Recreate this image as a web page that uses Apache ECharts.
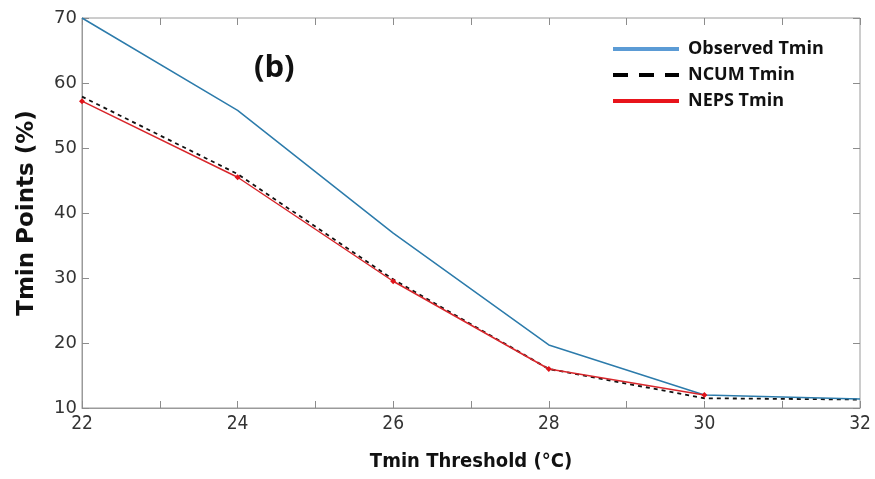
<!DOCTYPE html>
<html><head><meta charset="utf-8">
<script src="https://cdn.jsdelivr.net/npm/echarts@6/dist/echarts.min.js"></script>
<style>html,body{margin:0;padding:0;background:#fff}#c{width:875px;height:479px}</style>
</head><body><div id="c"></div>
<script>
const thresholds = [22, 24, 26, 28, 30, 32];
const observedTmin = [70, 55.8, 36.9, 19.7, 12.0, 11.4];
const ncumTmin = [57.9, 46.0, 29.8, 16.0, 11.5, 11.3];
const nepsTmin = [57.2, 45.5, 29.5, 16.0, 12.0, null];
const yTicks = [10, 20, 30, 40, 50, 60, 70];

const pair = (arr) => thresholds.map((t, i) => [t, arr[i]]).filter(p => p[1] !== null);

const chart = echarts.init(document.getElementById('c'));
const tickStyle = { color: '#8c8c8c', width: 1 };
const hideSym = { opacity: 0 };
chart.setOption({
  animation: false,
  grid: { left: 82, right: 15, top: 18, bottom: 71, show: true, borderColor: '#9a9a9a', borderWidth: 1 },
  title: { text: '(b)', left: 249, top: 48, textStyle: { fontFamily: 'Open Sans', fontWeight: 'bold', fontSize: 31, color: '#111' } },
  legend: {
    orient: 'vertical', left: 606, top: 32, itemWidth: 66, itemHeight: 14, itemGap: 2,
    textStyle: { fontFamily: 'Open Sans', fontWeight: 'bold', fontSize: 18, color: '#111', padding: [0, 0, 0, 4], lineHeight: 24 },
    data: [
      { name: 'Observed Tmin', lineStyle: { color: '#5b9bd5', width: 4 }, itemStyle: hideSym },
      { name: 'NCUM Tmin', lineStyle: { color: '#000', width: 4, type: [15, 11] }, itemStyle: hideSym },
      { name: 'NEPS Tmin', lineStyle: { color: '#e8141b', width: 4 }, itemStyle: hideSym }
    ]
  },
  xAxis: [{
    type: 'value', min: 22, max: 32, interval: 2,
    axisLine: { lineStyle: { color: '#9a9a9a' } },
    axisTick: { inside: true, length: 7, lineStyle: tickStyle },
    minorTick: { show: true, splitNumber: 2, length: 7, lineStyle: tickStyle },
    splitLine: { show: false },
    axisLabel: { color: '#333', fontSize: 19, fontFamily: 'DejaVu Sans Condensed', margin: 7 },
    name: 'Tmin Threshold (°C)', nameLocation: 'middle', nameGap: 44,
    nameTextStyle: { fontFamily: 'DejaVu Sans Condensed', fontWeight: 'bold', fontSize: 20, color: '#111' }
  }, {
    type: 'value', position: 'top', min: 22, max: 32, interval: 2,
    axisLine: { show: false }, axisLabel: { show: false }, splitLine: { show: false },
    axisTick: { inside: true, length: 7, lineStyle: tickStyle },
    minorTick: { show: true, splitNumber: 2, length: 7, lineStyle: tickStyle }
  }],
  yAxis: [{
    type: 'value', min: 10, max: 70, interval: 10,
    axisLine: { show: true, lineStyle: { color: '#9a9a9a' } },
    axisTick: { show: true, inside: true, length: 7, lineStyle: tickStyle },
    splitLine: { show: false },
    axisLabel: { color: '#333', fontSize: 18, fontFamily: 'DejaVu Sans', margin: 5, formatter: v => yTicks.includes(v) ? String(v) : '' },
    name: 'Tmin Points (%)', nameLocation: 'middle', nameGap: 43,
    nameTextStyle: { fontFamily: 'DejaVu Sans', fontWeight: 'bold', fontSize: 23, color: '#111' }
  }, {
    type: 'value', position: 'right', min: 10, max: 70, interval: 10,
    axisLine: { show: false }, axisLabel: { show: false }, splitLine: { show: false },
    axisTick: { show: true, inside: true, length: 7, lineStyle: tickStyle }
  }],
  series: [
    { name: 'Observed Tmin', type: 'line', data: pair(observedTmin), symbol: 'none', z: 3,
      lineStyle: { color: '#2c7bab', width: 1.5 }, itemStyle: { color: '#2c7bab' } },
    { name: 'NCUM Tmin', type: 'line', data: pair(ncumTmin), symbol: 'none', z: 2,
      lineStyle: { color: '#111', width: 1.8, type: [4, 4] }, itemStyle: { color: '#111' } },
    { name: 'NEPS Tmin', type: 'line', data: pair(nepsTmin), symbol: 'diamond', symbolSize: 6, z: 4,
      lineStyle: { color: '#d8262b', width: 1.5 }, itemStyle: { color: '#e0141b' } }
  ]
});
</script></body></html>
